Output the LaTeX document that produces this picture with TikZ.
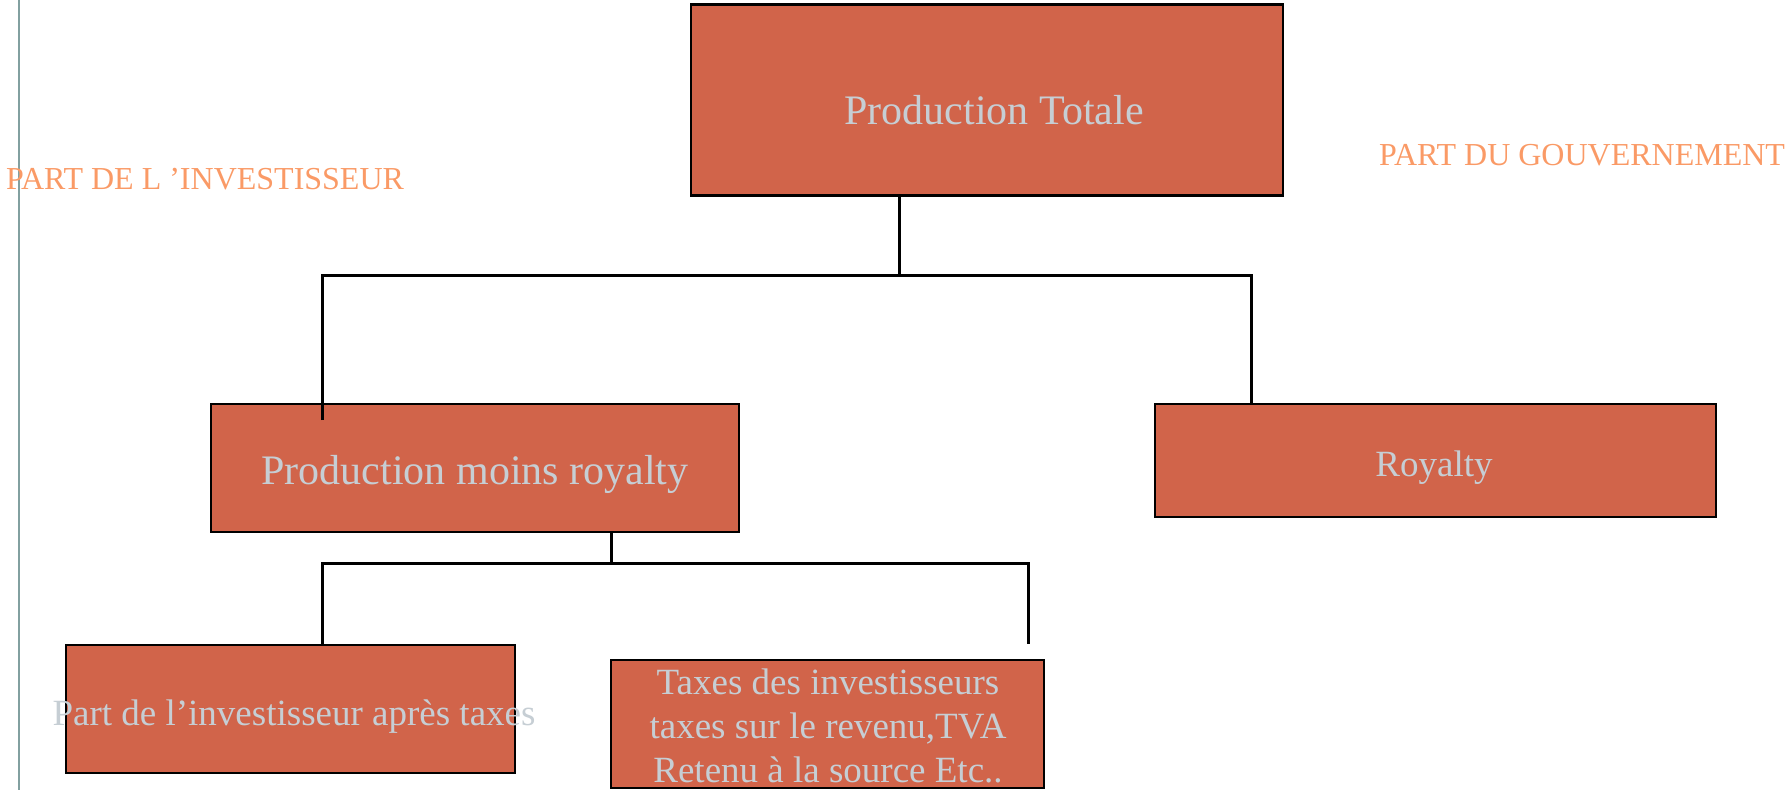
\documentclass[tikz,border=0pt]{standalone}
\usepackage{fontspec}
\setmainfont{Liberation Serif}
\definecolor{boxfill}{HTML}{D1644A}
\definecolor{boxtext}{HTML}{C6CED4}
\definecolor{parttext}{HTML}{FA9A66}
\definecolor{railgray}{HTML}{82A0A0}
\tikzset{
  box/.style={draw=black, line width=2.5pt, fill=boxfill, rectangle,
    inner sep=0pt, outer sep=0pt, anchor=north west},
  boxlabel/.style={text=boxtext, inner sep=0pt, anchor=base},
  partlabel/.style={text=parttext, inner sep=0pt, anchor=base west,
    font=\fontsize{32}{38}\selectfont},
  link/.style={draw=black, line width=3pt}
}
\begin{document}
\begin{tikzpicture}[x=1pt, y=-1pt]
\useasboundingbox (0,0) rectangle (1785,790);

% left margin rule
\draw[railgray, line width=2pt] (18.5,0) -- (18.5,790);

% boxes
\node[box, minimum width=592pt, minimum height=191pt] (tot) at (691,4.5) {};
\node[box, minimum width=528pt, minimum height=128pt] (pmr) at (211,404) {};
\node[box, minimum width=561pt, minimum height=113pt] (roy) at (1155,404) {};
\node[box, minimum width=449pt, minimum height=128pt] (pat) at (66,645) {};
\node[box, minimum width=433pt, minimum height=128pt] (tax) at (611,660) {};

% box texts
\node[boxlabel, font=\fontsize{42}{50}\selectfont] (totL) at (994,124) {Production Totale};
\node[boxlabel, font=\fontsize{42}{50}\selectfont] (pmrL) at (475,484) {Production moins royalty};
\node[boxlabel, font=\fontsize{37}{44}\selectfont] (royL) at (1434,476) {Royalty};
\node[boxlabel, font=\fontsize{37}{44}\selectfont] (patL) at (294,725) {Part de l’investisseur après taxes};
\node[boxlabel, font=\fontsize{37}{44}\selectfont, align=center] (taxL) at (828,782)
  {Taxes des investisseurs\\taxes sur le revenu,TVA\\Retenu à la source Etc..};

% side labels
\node[partlabel] (invL) at (6,189) {PART DE L ’INVESTISSEUR};
\node[partlabel] (govL) at (1379,165) {PART DU GOUVERNEMENT};

% connectors: first level (fork 80pt below the top box)
\path (tot.south) ++(-88pt,-80pt) coordinate (forkA);
\path (pmr.north west) ++(111pt,0pt) coordinate (colL);
\path (roy.north west) ++(96pt,0pt) coordinate (colR);
\path (colL) ++(0pt,-16pt) coordinate (forkAend);
\draw[link] (forkA |- tot.south) -- (forkA);
\draw[link] (forkAend) -- (colL |- forkA) -- (colR |- forkA) -- (colR);

% connectors: second level
\path (pmr.south west) ++(400pt,-31.5pt) coordinate (forkB);
\path (tax.north west) ++(417pt,16pt) coordinate (forkBend);
\draw[link] (forkB |- pmr.south) -- (forkB);
\draw[link] (colL |- pat.north) -- (colL |- forkB) -- (forkBend |- forkB) -- (forkBend);
\end{tikzpicture}
\end{document}
